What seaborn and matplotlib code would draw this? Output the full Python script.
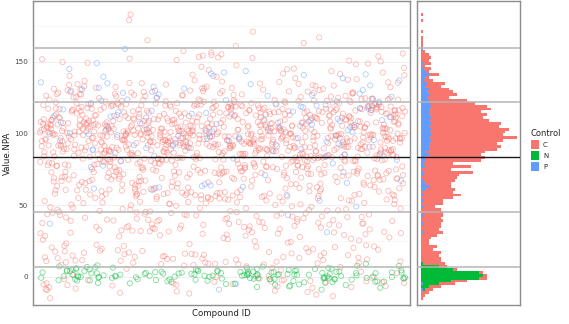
import numpy as np
import pandas as pd
import matplotlib
matplotlib.use("Agg")
import matplotlib.pyplot as plt
import seaborn as sns
from matplotlib.patches import Patch

# Value bins: 2 units wide, centred on -15, -13, ..., 185
bin_centers = list(range(-15, 186, 2))

# Number of compounds per value bin for each control group
count_C = [1, 2, 4, 4, 6, 8, 8, 4, 2, 2,
           2, 4, 11, 10, 10, 9, 10, 6, 8, 4,
           4, 5, 8, 10, 9, 10, 9, 11, 10, 10,
           11, 10, 6, 11, 10, 16, 19, 16, 15, 11,
           13, 16, 18, 18, 25, 15, 23, 15, 28, 30,
           26, 30, 34, 36, 34, 36, 44, 36, 38, 39,
           35, 35, 30, 26, 29, 26, 31, 28, 23, 19,
           11, 14, 13, 10, 8, 9, 5, 2, 5, 2,
           4, 2, 4, 4, 5, 4, 2, 0, 1, 1,
           1, 1, 0, 1, 0, 0, 0, 1, 0, 1,
           0]
count_N = [0, 0, 0, 1, 4, 8, 15, 29, 31, 29,
           16, 9, 1, 0, 0, 0, 0, 0, 0, 0,
           0, 0, 0, 0, 0, 0, 0, 0, 0, 0,
           0, 0, 0, 0, 0, 0, 0, 0, 0, 0,
           0, 0, 0, 0, 0, 0, 0, 0, 0, 0,
           0, 0, 0, 0, 0, 0, 0, 0, 0, 0,
           0, 0, 0, 0, 0, 0, 0, 0, 0, 0,
           0, 0, 0, 0, 0, 0, 0, 0, 0, 0,
           0, 0, 0, 0, 0, 0, 0, 0, 0, 0,
           0, 0, 0, 0, 0, 0, 0, 0, 0, 0,
           0]
count_P = [0, 0, 0, 1, 0, 1, 0, 0, 0, 0,
           0, 0, 0, 0, 0, 0, 0, 0, 0, 0,
           0, 0, 0, 1, 0, 0, 1, 0, 0, 1,
           0, 0, 1, 0, 1, 0, 1, 0, 2, 4,
           2, 1, 0, 1, 1, 0, 2, 1, 2, 2,
           4, 2, 4, 4, 4, 5, 4, 5, 4, 5,
           4, 5, 4, 5, 4, 4, 4, 5, 4, 4,
           3, 4, 3, 4, 2, 3, 1, 2, 4, 2,
           1, 0, 1, 0, 0, 0, 0, 1, 0, 0,
           0, 0, 0, 0, 0, 0, 0, 0, 0, 0,
           0]

groups = ["C", "N", "P"]
palette = {"C": "#F8766D", "N": "#00BA38", "P": "#619CFF"}
y_ticks = [0, 50, 100, 150]

# Reference lines: mean and +/- 1 and 2 standard deviations
mean_value = 83.3
sd_value = 38.3

# Expand the binned counts into one row per compound
counts = {"C": count_C, "N": count_N, "P": count_P}
values, labels = [], []
for i, center in enumerate(bin_centers):
    for g in groups:
        c = counts[g][i]
        for j in range(c):
            values.append(center - 1 + 2 * (j + 0.5) / c)
            labels.append(g)
n = len(values)

# Compound order along the x axis: a fixed cubic Weyl ordering
k = np.arange(1, n + 1, dtype=np.float64)
key = (k ** 3 * np.sqrt(2) + k ** 2 * (np.sqrt(5) - 1) / 2) % 1.0
compound_id = np.argsort(np.argsort(key))
df = pd.DataFrame({"Compound ID": compound_id, "Value.NPA": values, "Control": labels})
df = df.sort_values("Compound ID").reset_index(drop=True)

sns.set_style("white")
plt.rcParams["font.family"] = ["DejaVu Sans"]

W, H = 569, 324
fig = plt.figure(figsize=(W / 100, H / 100), dpi=100)
ax = fig.add_axes([33 / W, 19 / H, 377 / W, 304 / H])
axh = fig.add_axes([416.5 / W, 19 / H, 103.5 / W, 304 / H])

ylim = (-19.75, 192.4)

# Scatter of all compounds
sns.scatterplot(data=df, x="Compound ID", y="Value.NPA", hue="Control",
                hue_order=groups, palette=palette, ax=ax, legend=False,
                s=14, linewidth=0.6, zorder=3)
pts = ax.collections[-1]
fc = pts.get_facecolors().copy()
fc[:, 3] = 0.5
pts.set_edgecolors(fc)
pts.set_facecolors("none")

span = (n - 1) / (1 - 0.0186 - 0.013)
ax.set_xlim(-0.0186 * span, -0.0186 * span + span)
ax.set_ylim(*ylim)
ax.set_xticks([])
ax.set_yticks(y_ticks)
ax.set_yticks([25, 75, 125, 175], minor=True)
ax.grid(True, which="major", axis="y", color="#ececec", linewidth=0.6, zorder=0)
ax.grid(True, which="minor", axis="y", color="#f4f4f4", linewidth=0.5, zorder=0)
ax.tick_params(axis="y", which="major", labelsize=5.2, labelcolor="#4d4d4d",
               length=2, width=0.6, color="#8c8c8c", pad=1.5)
ax.tick_params(axis="y", which="minor", length=0)
ax.set_xlabel("Compound ID", fontsize=6.2, color="#222222", labelpad=3)
ax.set_ylabel("Value.NPA", fontsize=6.2, color="#222222", labelpad=2)

# Marginal stacked histogram
sns.histplot(data=df, y="Value.NPA", hue="Control", hue_order=groups,
             palette=palette, multiple="stack", binwidth=2, binrange=(-16, 186),
             ax=axh, legend=False, edgecolor="none", linewidth=0, alpha=1)
axh.set_ylim(*ylim)
axh.set_xlim(-2.25, 49.5)
axh.set_xticks([])
axh.set_yticks([])
axh.set_xlabel("")
axh.set_ylabel("")

for a in (ax, axh):
    for m in (-2, -1, 1, 2):
        a.axhline(mean_value + m * sd_value, color="#b5b5b5", linewidth=1.1, zorder=4)
    a.axhline(mean_value, color="#1a1a1a", linewidth=1.0, zorder=4)
    for sp in a.spines.values():
        sp.set_visible(True)
        sp.set_color("#8c8c8c")
        sp.set_linewidth(1.0)

handles = [Patch(facecolor=palette[g], edgecolor="none", label=g) for g in groups]
leg = fig.legend(handles=handles, title="Control", loc="upper left",
                 bbox_to_anchor=(528 / W, 1 - 126 / H), frameon=False,
                 fontsize=5, title_fontsize=6, handlelength=1.15,
                 handleheight=1.6, labelspacing=0.3, handletextpad=0.6,
                 alignment="left", borderaxespad=0)

fig.savefig("out.png", dpi=100)
